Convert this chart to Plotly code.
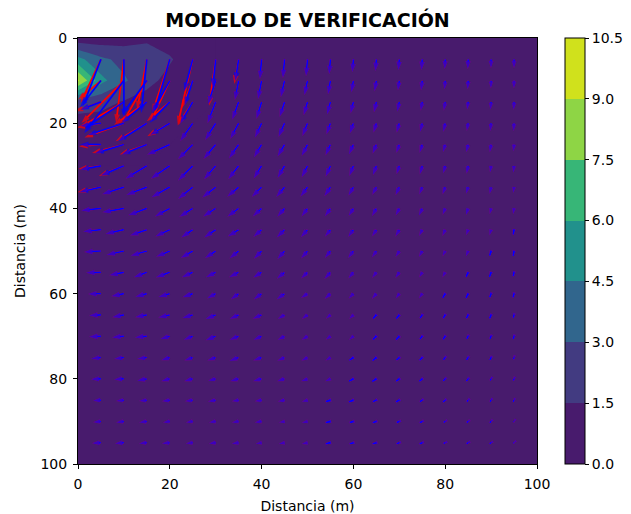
import math
import plotly.graph_objects as go

# ---------------------------------------------------------------- data
# Grid of vector tails (m)
GRID = [5, 10, 15, 20, 25, 30, 35, 40, 45, 50, 55, 60, 65, 70, 75, 80, 85, 90, 95]

# Direction of the computed (blue) vectors, degrees clockwise from +x on screen
# rows: depth 5..95, columns: distance 5..95
ANGLE = [
    [111, 90, 96, 106, 105, 96, 99, 95, 95, 95, 95, 95, 95, 95, 95, 93, 92, 91, 90],
    [128, 127, 126, 119, 108, 108, 101, 101, 103, 102, 100, 100, 100, 98, 97, 95, 93, 92, 91],
    [159, 146, 140, 134, 120, 111, 110, 107, 108, 106, 105, 104, 103, 102, 100, 99, 97, 95, 93],
    [172, 162, 148, 149, 125, 122, 118, 115, 114, 112, 110, 109, 107, 106, 104, 102, 100, 97, 94],
    [180, 163, 158, 156, 135, 130, 125, 121, 120, 117, 115, 114, 112, 110, 108, 106, 104, 100, 96],
    [170, 157, 149, 146, 135, 131, 128, 122, 120, 117, 114, 112, 110, 108, 106, 104, 102, 99, 96],
    [167, 162, 159, 151, 141, 142, 140, 135, 130, 127, 124, 120, 118, 115, 112, 110, 107, 103, 98],
    [174, 170, 160, 152, 148, 147, 144, 138, 131, 127, 125, 122, 120, 117, 115, 112, 108, 104, 99],
    [174, 167, 161, 155, 146, 146, 148, 139, 135, 132, 129, 126, 123, 120, 117, 114, 110, 106, 100],
    [177, 167, 164, 157, 150, 146, 141, 135, 131, 131, 129, 127, 125, 122, 119, 116, 112, 107, 101],
    [178, 169, 159, 160, 156, 153, 153, 148, 140, 136, 133, 130, 127, 124, 121, 118, 114, 109, 103],
    [178, 168, 165, 163, 160, 151, 143, 143, 143, 146, 138, 134, 130, 127, 124, 120, 116, 111, 105],
    [177, 169, 169, 168, 163, 158, 156, 157, 150, 145, 140, 136, 132, 128, 125, 121, 117, 112, 106],
    [177, 174, 174, 163, 157, 158, 157, 155, 152, 148, 144, 140, 136, 132, 128, 124, 119, 114, 108],
    [173, 172, 172, 163, 160, 160, 160, 160, 157, 153, 149, 145, 141, 137, 133, 128, 123, 117, 110],
    [178, 176, 169, 165, 165, 165, 165, 165, 162, 159, 155, 151, 147, 143, 138, 133, 128, 121, 113],
    [175, 174, 173, 172, 171, 170, 170, 170, 168, 165, 162, 158, 154, 150, 145, 140, 134, 127, 118],
    [173, 172, 172, 171, 170, 170, 170, 170, 170, 168, 166, 163, 160, 156, 152, 147, 141, 134, 124],
    [176, 175, 175, 175, 174, 173, 172, 170, 170, 168, 167, 165, 163, 160, 157, 153, 148, 142, 135],
]

# Magnitude of the computed (blue) vectors
MAGNITUDE = [
    [50, 58, 54, 54, 33, 28, 22, 20, 19, 17, 15, 13, 12, 11, 11, 10, 10, 9, 9],
    [34, 66, 42, 37, 26, 25, 20, 19, 17, 15, 14, 12, 11, 10, 10, 9, 9, 8, 8],
    [22, 47, 33, 29, 25, 23, 19, 18, 16, 14, 13, 12, 11, 10, 9, 9, 8, 8, 8],
    [21, 38, 34, 23, 22, 20, 18, 16, 15, 14, 12, 11, 10, 10, 9, 9, 8, 8, 8],
    [21, 30, 27, 25, 21, 19, 17, 15, 14, 13, 12, 11, 10, 9, 9, 8, 8, 8, 7],
    [21, 25, 25, 23, 21, 18, 17, 15, 14, 13, 12, 11, 10, 9, 9, 8, 8, 7, 7],
    [22, 23, 22, 21, 19, 17, 15, 14, 13, 12, 11, 10, 9, 9, 8, 8, 7, 7, 6],
    [20, 22, 20, 17, 16, 15, 14, 12, 11, 10, 10, 9, 9, 8, 8, 7, 7, 6, 6],
    [18, 19, 18, 16, 14, 14, 13, 11, 11, 10, 9, 9, 8, 8, 7, 7, 6, 6, 5],
    [17, 18, 17, 15, 14, 13, 12, 11, 11, 10, 9, 9, 8, 7, 7, 6, 6, 5, 5],
    [15, 15, 14, 15, 12, 11, 11, 10, 10, 9, 9, 8, 7, 7, 6, 6, 5, 5, 4],
    [13, 13, 12, 12, 11, 10, 10, 10, 10, 8, 8, 7, 7, 6, 6, 5, 5, 4, 4],
    [12, 12, 12, 12, 11, 11, 10, 10, 8, 7, 6, 6, 5, 5, 4, 4, 4, 4, 3],
    [12, 12, 12, 10, 10, 11, 10, 9, 8, 7, 6, 6, 5, 5, 4, 4, 3, 3, 3],
    [10, 10, 10, 9, 9, 9, 10, 9, 8, 7, 6, 5, 5, 4, 4, 3, 3, 3, 2],
    [10, 10, 10, 9, 9, 8, 9, 9, 8, 7, 6, 5, 5, 4, 4, 3, 3, 2, 2],
    [8, 8, 8, 8, 8, 8, 7, 7, 7, 6, 5, 5, 4, 4, 3, 3, 2, 2, 2],
    [8, 8, 8, 7, 7, 7, 7, 7, 6, 6, 5, 4, 4, 3, 3, 2, 2, 2, 1],
    [9, 9, 8, 8, 7, 7, 7, 6, 6, 6, 5, 4, 4, 3, 3, 2, 2, 2, 1],
]

# Reference (red) vectors differ from the computed ones only near the load:
# (distance, depth, angle, magnitude)
REFERENCE_DIFF = [
    (5, 5, 115, 48), (10, 5, 97, 64), (15, 5, 101, 51), (20, 5, 108, 56),
    (25, 5, 103, 67), (30, 5, 98, 47), (35, 5, 100, 25),
    (5, 10, 140, 30), (10, 10, 135, 60), (15, 10, 120, 50), (20, 10, 115, 45),
    (25, 10, 112, 30),
    (5, 15, 160, 28), (10, 15, 150, 50), (15, 15, 145, 40), (20, 15, 140, 30),
    (25, 15, 123, 28),
    (5, 20, 170, 25), (10, 20, 160, 42), (15, 20, 150, 36), (20, 20, 150, 26),
    (5, 25, 175, 22), (10, 25, 165, 33), (15, 25, 160, 29),
    (5, 30, 172, 23), (10, 30, 158, 27), (5, 35, 168, 24),
]

# Scalar field (contour) on a 5 m mesh; only the zone near the load is non-zero
MESH = list(range(0, 101, 5))
FIELD_NEAR_LOAD = [  # rows depth 0..25, cols distance 0..25
    [0.5, 0.6, 0.8, 1.0, 0.6, 0.2],
    [5.0, 3.3, 2.6, 3.0, 1.7, 0.4],
    [9.2, 5.0, 3.2, 2.1, 0.9, 0.2],
    [2.4, 1.9, 1.4, 0.7, 0.3, 0.1],
    [0.8, 1.0, 0.6, 0.3, 0.1, 0.0],
    [0.3, 0.4, 0.2, 0.1, 0.0, 0.0],
]
LEVELS = [0.0, 1.5, 3.0, 4.5, 6.0, 7.5, 9.0, 10.5]
BAND_COLORS = ["#481b6d", "#3f4889", "#2f6b8e", "#21918c", "#2db27d", "#73d056", "#d0e11c"]

# ---------------------------------------------------------------- layout constants
W, H = 631, 514
ML, MR, MT, MB = 78, 94, 38, 50
PLOT_W, PLOT_H = W - ML - MR, H - MT - MB
PX_X = PLOT_W / 100.0
PX_Y = PLOT_H / 100.0
FONT = "DejaVu Sans"

# ---------------------------------------------------------------- contour field
z = [[0.0 for _ in MESH] for _ in MESH]
for r, row in enumerate(FIELD_NEAR_LOAD):
    for c, v in enumerate(row):
        z[r][c] = v

n = len(BAND_COLORS)
cscale = [[0.0, BAND_COLORS[0]]]
for k, col in enumerate(BAND_COLORS):
    cscale.append([(k + 1) / (n + 1), col])
cscale.append([1.0, BAND_COLORS[-1]])

contour = go.Contour(
    x=MESH, y=MESH, z=z,
    zmin=LEVELS[0], zmax=LEVELS[-1],
    contours=dict(start=LEVELS[0], end=LEVELS[-1], size=LEVELS[1] - LEVELS[0],
                  coloring="fill", showlines=False),
    line=dict(width=0, smoothing=0),
    colorscale=cscale,
    colorbar=dict(
        x=(565 - ML) / PLOT_W, xanchor="left", xpad=0,
        y=0.5, yanchor="middle", ypad=0, len=1, lenmode="fraction",
        thickness=20, outlinewidth=1, outlinecolor="black",
        ticks="outside", ticklen=4, tickwidth=1, tickcolor="black",
        tickvals=LEVELS, ticktext=[f"{v:.1f}" for v in LEVELS],
        tickfont=dict(family=FONT, size=14, color="black"),
    ),
    hoverinfo="skip",
)


# ---------------------------------------------------------------- vectors
def vector_trace(angles, mags, color):
    xs, ys, sizes = [], [], []
    for j, y0 in enumerate(GRID):
        for i, x0 in enumerate(GRID):
            a = math.radians(angles[j][i])
            m = mags[j][i]
            dx = m * math.cos(a) / PX_X
            dy = m * math.sin(a) / PX_Y
            xs += [x0, x0 + dx, None]
            ys += [y0, y0 + dy, None]
            sizes += [0, min(9.0, 3.5 + 0.5 * m), 0]
    return go.Scatter(
        x=xs, y=ys, mode="lines+markers",
        line=dict(color=color, width=1.7),
        marker=dict(symbol="arrow", angleref="previous", size=sizes, color=color,
                    line=dict(width=0)),
        hoverinfo="skip", showlegend=False,
    )


ref_angle = [row[:] for row in ANGLE]
ref_mag = [row[:] for row in MAGNITUDE]
for xd, yd, a, m in REFERENCE_DIFF:
    j, i = GRID.index(yd), GRID.index(xd)
    ref_angle[j][i] = a
    ref_mag[j][i] = m

fig = go.Figure([contour,
                 vector_trace(ref_angle, ref_mag, "#ff0000"),
                 vector_trace(ANGLE, MAGNITUDE, "#0000ff")])

axis_common = dict(
    showgrid=False, zeroline=False, showline=True, linecolor="black", linewidth=1,
    mirror=True, ticks="outside", ticklen=4, tickwidth=1, tickcolor="black",
    tickfont=dict(family=FONT, size=14, color="black"),
    ticklabelstandoff=3, automargin=False,
)
fig.update_xaxes(range=[0, 100], tickvals=[0, 20, 40, 60, 80, 100],
                 title=dict(text="Distancia (m)", font=dict(family=FONT, size=14, color="black"),
                            standoff=10),
                 **axis_common)
fig.update_yaxes(range=[100, 0], tickvals=[0, 20, 40, 60, 80, 100],
                 title=dict(text="Distancia (m)", font=dict(family=FONT, size=14, color="black"),
                            standoff=11),
                 **axis_common)

fig.update_layout(
    width=W, height=H,
    margin=dict(l=ML, r=MR, t=MT, b=MB, autoexpand=False),
    paper_bgcolor="white", plot_bgcolor="white",
    title=dict(text="<b>MODELO DE VERIFICACIÓN</b>", x=(ML + PLOT_W / 2) / W, xanchor="center",
               y=1 - 20 / H, yanchor="middle",
               font=dict(family=FONT, size=19, color="black")),
    showlegend=False,
)

fig.write_html("out.html")
